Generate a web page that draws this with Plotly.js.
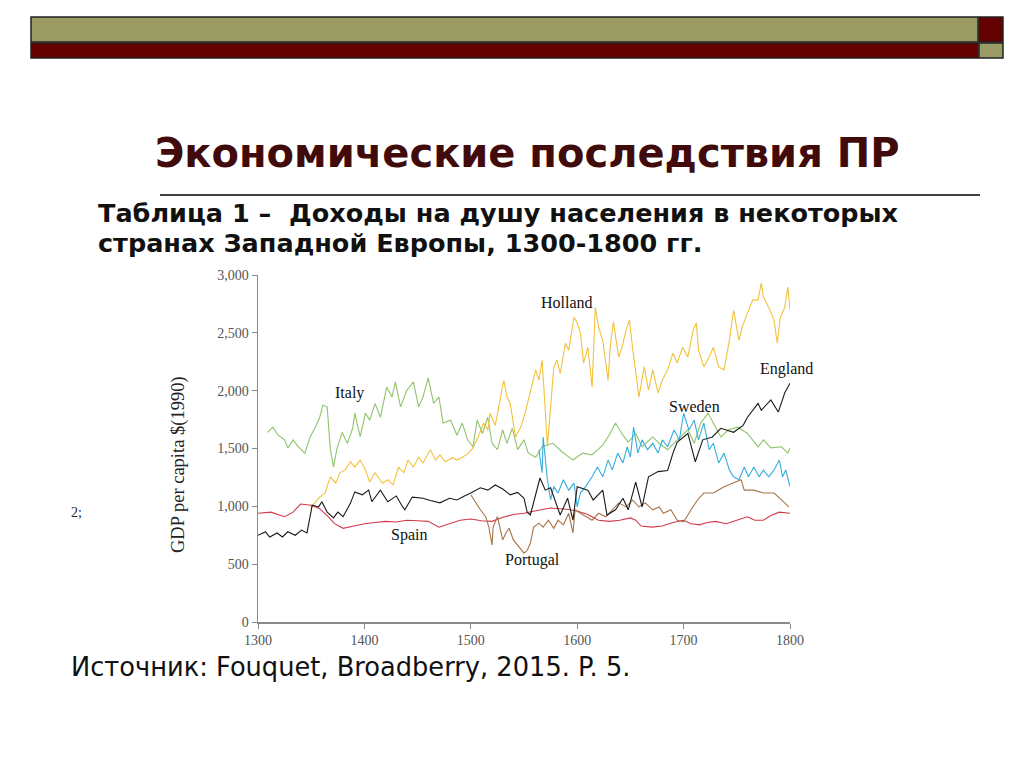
<!DOCTYPE html>
<html>
<head>
<meta charset="utf-8">
<script src="https://cdn.plot.ly/plotly-3.0.1.min.js"></script>
<style>html,body{margin:0;padding:0;background:#fff;}#chart{width:1024px;height:768px;}</style>
</head>
<body>
<div id="chart"></div>
<script>
// ---- DATA ----
const englandYears = [1300,1307,1311,1318,1323,1328,1335,1341,1346,1349,1351,1357,1360,1365,1371,1375,1380,1387,1391,1398,1404,1407,1415,1422,1430,1436,1438,1445,1455,1462,1471,1480,1487,1494,1500,1509,1516,1523,1530,1537,1544,1550,1553,1556,1565,1570,1575,1584,1591,1596,1600,1610,1615,1624,1628,1636,1643,1648,1655,1661,1667,1676,1685,1690,1694,1704,1711,1718,1727,1735,1747,1756,1760,1770,1773,1782,1789,1795,1800];
const englandValues = [750,780,735,770,735,780,750,795,770,900,1010,995,1040,950,900,950,910,1030,1125,1100,1140,1040,1140,1040,1090,995,970,1080,1070,1050,1030,1070,1055,1090,1115,1160,1140,1185,1150,1100,1120,1070,950,925,1245,1140,1160,925,1070,880,1170,1140,1055,1140,925,970,1070,970,1210,995,1255,1300,1310,1460,1555,1630,1385,1575,1600,1675,1640,1700,1770,1890,1830,1920,1815,1980,2065];

const spainYears = [1300,1312,1325,1333,1340,1350,1358,1365,1372,1380,1390,1400,1410,1420,1430,1440,1450,1460,1470,1480,1490,1500,1510,1520,1530,1540,1550,1560,1575,1590,1600,1610,1620,1630,1640,1650,1655,1660,1670,1680,1690,1700,1707,1715,1722,1730,1740,1750,1760,1767,1775,1782,1790,1800];
const spainValues = [940,950,910,950,1020,1010,980,920,850,810,830,850,860,870,865,880,875,870,820,850,880,890,875,870,905,930,940,960,985,975,960,930,880,870,880,900,880,830,820,830,860,880,850,840,860,870,850,880,910,880,880,920,950,940];

const italyYears = [1309,1314,1319,1325,1328,1333,1338,1344,1349,1354,1358,1361,1365,1368,1371,1374,1379,1384,1389,1391,1396,1401,1405,1410,1415,1421,1426,1429,1434,1440,1446,1451,1455,1460,1465,1470,1474,1481,1487,1492,1497,1502,1506,1511,1516,1520,1525,1530,1534,1539,1544,1550,1554,1561,1567,1577,1586,1596,1605,1614,1624,1631,1636,1643,1648,1655,1661,1671,1677,1685,1694,1704,1710,1716,1723,1728,1735,1742,1751,1760,1770,1775,1782,1792,1798,1800];
const italyValues = [1640,1685,1615,1575,1505,1575,1515,1460,1600,1685,1770,1875,1860,1490,1340,1490,1640,1545,1675,1805,1600,1805,1745,1890,1770,2030,1945,2075,1860,2005,2075,1860,1945,2110,1890,1945,1720,1745,1615,1720,1575,1515,1745,1630,1770,1545,1490,1660,1545,1675,1490,1575,1460,1425,1515,1545,1470,1400,1460,1445,1530,1630,1720,1615,1555,1630,1515,1600,1545,1490,1575,1660,1545,1720,1805,1720,1600,1660,1685,1630,1515,1575,1505,1515,1460,1505];

const hollandYears = [1349,1354,1358,1363,1368,1373,1377,1382,1387,1391,1396,1401,1405,1410,1417,1422,1427,1432,1437,1441,1446,1451,1455,1462,1467,1471,1476,1483,1487,1492,1498,1502,1507,1512,1516,1518,1523,1528,1531,1534,1537,1542,1547,1551,1554,1558,1561,1564,1567,1570,1572,1575,1578,1581,1584,1589,1592,1597,1600,1603,1606,1610,1614,1617,1620,1624,1629,1631,1634,1639,1643,1646,1649,1652,1655,1658,1663,1667,1671,1676,1680,1685,1690,1694,1699,1704,1709,1712,1714,1719,1724,1728,1733,1738,1743,1747,1752,1755,1760,1765,1770,1773,1775,1780,1785,1788,1791,1795,1798,1800];
const hollandValues = [985,1040,1080,1115,1255,1200,1290,1315,1385,1340,1400,1315,1210,1290,1200,1230,1185,1340,1290,1400,1340,1425,1375,1490,1400,1445,1385,1420,1400,1425,1460,1505,1600,1720,1660,1805,1700,1945,2090,1945,1890,1600,1685,1805,1920,2090,2180,2090,2265,1830,1515,1860,2205,2265,2150,2410,2350,2635,2585,2500,2240,2375,2030,2720,2550,2435,2090,2375,2595,2290,2410,2525,2610,2375,2150,1945,2205,2005,2180,1980,2090,2180,2325,2240,2375,2290,2525,2585,2350,2205,2290,2375,2205,2180,2435,2695,2435,2550,2670,2785,2785,2930,2810,2720,2610,2410,2635,2720,2895,2695];

const swedenYears = [1564,1567,1568,1572,1575,1578,1582,1587,1592,1597,1600,1603,1608,1614,1619,1624,1629,1633,1638,1643,1647,1650,1653,1657,1661,1666,1671,1676,1680,1685,1691,1696,1700,1705,1710,1714,1719,1724,1728,1733,1738,1743,1747,1752,1757,1761,1766,1771,1775,1780,1785,1790,1793,1796,1800];
const swedenValues = [1490,1290,1600,1230,1055,1170,1115,1230,1140,1200,995,1115,1170,1255,1340,1255,1400,1315,1460,1375,1515,1425,1685,1460,1575,1490,1545,1460,1575,1515,1660,1575,1805,1660,1745,1575,1720,1490,1545,1375,1460,1315,1255,1230,1340,1255,1340,1255,1315,1255,1315,1400,1255,1315,1170];

const portugalYears = [1500,1504,1509,1514,1517,1520,1521,1525,1527,1530,1533,1536,1540,1545,1550,1553,1556,1559,1564,1568,1573,1578,1582,1587,1592,1596,1598,1603,1608,1614,1620,1627,1633,1639,1646,1652,1658,1664,1671,1677,1681,1688,1694,1700,1707,1713,1719,1728,1738,1747,1754,1757,1766,1775,1785,1792,1799];
const portugalValues = [1100,1040,970,910,820,665,820,910,840,710,770,810,710,650,595,620,680,820,855,820,880,810,880,840,940,770,970,940,910,880,940,910,970,1030,995,1055,995,1030,970,995,940,970,880,865,970,1055,1115,1115,1170,1200,1230,1140,1140,1115,1115,1055,995];

const seriesNames = ["Italy","Holland","England","Sweden","Spain","Portugal"];
const xTickVals = [1300,1400,1500,1600,1700,1800];
const yTickVals = [0,500,1000,1500,2000,2500,3000];

// ---- helpers: pixel -> paper coordinates ----
const W = 1024, H = 768;
const px = x => x / W;
const py = y => 1 - y / H;

const serif = "Liberation Serif, Times New Roman, serif";
const sans = "DejaVu Sans, Verdana, sans-serif";

function line(name, xs, ys, color) {
  return {type: "scatter", mode: "lines", name: name, x: xs, y: ys,
          line: {color: color, width: 1.1}, hoverinfo: "skip"};
}

const data = [
  line("Italy", italyYears, italyValues, "#8fc46a"),
  line("Holland", hollandYears, hollandValues, "#f2c23c"),
  line("Spain", spainYears, spainValues, "#d23a48"),
  line("Portugal", portugalYears, portugalValues, "#a87448"),
  line("Sweden", swedenYears, swedenValues, "#35aede"),
  line("England", englandYears, englandValues, "#1a1a1a")
];

const labelPos = {
  Italy: [1386, 1980], Holland: [1590, 2765], England: [1797, 2187],
  Sweden: [1710, 1867], Spain: [1442, 752], Portugal: [1558, 536]
};

const annotations = seriesNames.map(n => ({
  xref: "x", yref: "y", x: labelPos[n][0], y: labelPos[n][1], text: n,
  showarrow: false, font: {family: serif, size: 16, color: "#111"}
}));

annotations.push(
  {xref: "paper", yref: "paper", x: px(527), y: py(153), text: "<b>Экономические последствия ПР</b>",
   showarrow: false, xanchor: "center", yanchor: "middle",
   font: {family: sans, size: 40, color: "#420b0b"}},
  {xref: "paper", yref: "paper", x: px(96), y: py(213), text: "<b>Таблица 1 –  Доходы на душу населения в некоторых</b>",
   showarrow: false, xanchor: "left", yanchor: "middle",
   font: {family: sans, size: 25.5, color: "#111"}},
  {xref: "paper", yref: "paper", x: px(96), y: py(243), text: "<b>странах Западной Европы, 1300-1800 гг.</b>",
   showarrow: false, xanchor: "left", yanchor: "middle",
   font: {family: sans, size: 25.5, color: "#111"}},
  {xref: "paper", yref: "paper", x: px(69), y: py(667), text: "Источник: Fouquet, Broadberry, 2015. P. 5.",
   showarrow: false, xanchor: "left", yanchor: "middle",
   font: {family: sans, size: 25.7, color: "#111"}},
  {xref: "paper", yref: "paper", x: px(69), y: py(512), text: "2;",
   showarrow: false, xanchor: "left", yanchor: "middle",
   font: {family: serif, size: 14, color: "#222"}},
  {xref: "paper", yref: "paper", x: px(178), y: py(465), text: "GDP per capita $(1990)",
   showarrow: false, textangle: -90, xanchor: "center", yanchor: "middle",
   font: {family: serif, size: 18.5, color: "#222"}}
);

const shapes = [
  {type: "rect", xref: "paper", yref: "paper", x0: px(31), x1: px(978), y0: py(17), y1: py(42),
   fillcolor: "#9a9a64", line: {color: "#222", width: 1.5}},
  {type: "rect", xref: "paper", yref: "paper", x0: px(31), x1: px(978), y0: py(43), y1: py(58),
   fillcolor: "#640000", line: {color: "#222", width: 1.5}},
  {type: "rect", xref: "paper", yref: "paper", x0: px(979), x1: px(1003), y0: py(17), y1: py(42),
   fillcolor: "#640000", line: {color: "#222", width: 1.5}},
  {type: "rect", xref: "paper", yref: "paper", x0: px(979), x1: px(1003), y0: py(43), y1: py(58),
   fillcolor: "#9a9a64", line: {color: "#222", width: 1.5}},
  {type: "line", xref: "paper", yref: "paper", x0: px(160), x1: px(980), y0: py(195), y1: py(195),
   line: {color: "#000", width: 1.6}}
];

const layout = {
  width: W, height: H,
  margin: {l: 0, r: 0, t: 0, b: 0},
  paper_bgcolor: "#fff", plot_bgcolor: "#fff",
  showlegend: false,
  xaxis: {
    domain: [px(258), px(790)], range: [1300, 1800],
    tickvals: xTickVals, ticks: "outside", ticklen: 5, tickcolor: "#8a8a8a",
    showline: true, linecolor: "#8a8a8a", linewidth: 1.5, showgrid: false, zeroline: false,
    tickfont: {family: serif, size: 14, color: "#555"}, fixedrange: true
  },
  yaxis: {
    domain: [py(622), py(275)], range: [0, 3000],
    tickvals: yTickVals, tickformat: ",", ticks: "outside", ticklen: 5, tickcolor: "#8a8a8a",
    showline: true, linecolor: "#8a8a8a", linewidth: 1.5, showgrid: false, zeroline: false,
    tickfont: {family: serif, size: 14, color: "#555"}, fixedrange: true
  },
  annotations: annotations,
  shapes: shapes
};

Plotly.newPlot("chart", data, layout, {staticPlot: true, displayModeBar: false});
</script>
</body>
</html>
